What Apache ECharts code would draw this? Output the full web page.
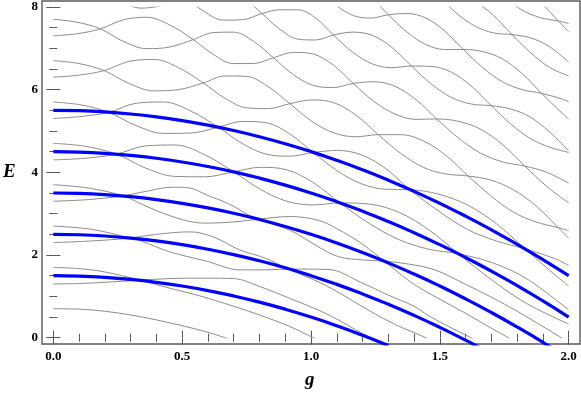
<!DOCTYPE html>
<html>
<head>
<meta charset="utf-8">
<script src="https://cdn.jsdelivr.net/npm/echarts@6.0.0/dist/echarts.min.js"></script>
<style>
  html, body { margin: 0; padding: 0; background: #fff; }
  #chart { width: 581px; height: 393px; }
</style>
</head>
<body>
<div id="chart"></div>
<script>
// tick positions
const xMajor = [0, 0.5, 1.0, 1.5, 2.0];
const xMinor = [0.1, 0.2, 0.3, 0.4, 0.6, 0.7, 0.8, 0.9, 1.1, 1.2, 1.3, 1.4, 1.6, 1.7, 1.8, 1.9];
const yMajor = [0, 2, 4, 6, 8];
const yMinor = [0.5, 1, 1.5, 2.5, 3, 3.5, 4.5, 5, 5.5, 6.5, 7, 7.5];

// coupling values for the thick (blue) levels
const blueG = [0, 0.1, 0.2, 0.3, 0.4, 0.5, 0.6, 0.7, 0.8, 0.9, 1.0, 1.1, 1.2, 1.3, 1.4, 1.5, 1.6, 1.7, 1.8, 1.9, 2.0];
const blue1 = [1.5, 1.49, 1.46, 1.41, 1.34, 1.25, 1.14, 1.01, 0.86, 0.69, 0.5, 0.29, 0.06, -0.19];
const blue2 = [2.5, 2.49, 2.46, 2.41, 2.34, 2.25, 2.14, 2.01, 1.86, 1.69, 1.5, 1.29, 1.06, 0.81, 0.54, 0.25, -0.06, -0.39];
const blue3 = [3.5, 3.49, 3.46, 3.41, 3.34, 3.25, 3.14, 3.01, 2.86, 2.69, 2.5, 2.29, 2.06, 1.81, 1.54, 1.25, 0.94, 0.61, 0.26, -0.11, -0.5];
const blue4 = [4.5, 4.49, 4.46, 4.41, 4.34, 4.25, 4.14, 4.01, 3.86, 3.69, 3.5, 3.29, 3.06, 2.81, 2.54, 2.25, 1.94, 1.61, 1.26, 0.89, 0.5];
const blue5 = [5.5, 5.49, 5.46, 5.41, 5.34, 5.25, 5.14, 5.01, 4.86, 4.69, 4.5, 4.29, 4.06, 3.81, 3.54, 3.25, 2.94, 2.61, 2.26, 1.89, 1.5];

// thin (gray) levels, [g, E]
const grayA0 = [[0,0.70],[0.1,0.69],[0.2,0.64],[0.3,0.55],[0.4,0.43],[0.5,0.29],[0.6,0.13],[0.7,-0.07]];
const grayA1 = [[0,1.70],[0.1,1.67],[0.2,1.59],[0.337,1.39],[0.45,1.20],[0.569,1.01],[0.7,0.76],[0.8,0.55],[0.918,0.27],[1.009,0.0],[1.05,-0.12]];
const grayB1 = [[0,1.30],[0.1,1.31],[0.2,1.34],[0.337,1.39],[0.45,1.43],[0.569,1.44],[0.699,1.43],[0.8,1.24],[0.918,0.95],[1.028,0.67],[1.1,0.45],[1.197,0.11],[1.25,-0.05]];
const grayA2 = [[0,2.70],[0.15,2.62],[0.298,2.41],[0.336,2.35],[0.45,2.08],[0.595,1.85],[0.724,1.64],[0.82,1.64],[0.918,1.66],[1.067,1.65],[1.2,1.32],[1.3,1.03],[1.4,0.76],[1.462,0.51],[1.585,0.11],[1.63,-0.03]];
const grayB2 = [[0,2.30],[0.15,2.34],[0.298,2.41],[0.4,2.50],[0.53,2.56],[0.62,2.44],[0.724,2.12],[0.82,1.93],[0.918,1.64],[1.015,1.39],[1.1,1.12],[1.222,0.67],[1.33,0.31],[1.445,0.0],[1.5,-0.2]];
const grayA3 = [[0,3.70],[0.136,3.62],[0.272,3.43],[0.336,3.25],[0.43,3.00],[0.53,2.81],[0.6,2.77],[0.7,2.80],[0.789,2.86],[0.918,2.93],[1.028,2.84],[1.1,2.64],[1.2,2.26],[1.287,1.84],[1.35,1.52],[1.4,1.29],[1.5,0.93],[1.6,0.59],[1.7,0.23],[1.766,0.0],[1.8,-0.12]];
const grayB3 = [[0,3.30],[0.136,3.34],[0.272,3.43],[0.336,3.51],[0.466,3.64],[0.53,3.62],[0.595,3.45],[0.68,3.24],[0.783,2.89],[0.918,2.60],[1.028,2.20],[1.106,1.96],[1.2,1.88],[1.287,1.85],[1.38,1.78],[1.481,1.64],[1.6,1.29],[1.7,0.98],[1.8,0.64],[1.9,0.27],[1.96,0.04],[2.0,-0.12]];
const grayA4 = [[0,4.70],[0.123,4.63],[0.245,4.44],[0.359,4.10],[0.473,3.90],[0.586,3.89],[0.70,4.01],[0.803,4.12],[0.906,4.06],[1.009,3.75],[1.112,3.26],[1.227,2.76],[1.342,2.37],[1.457,2.14],[1.572,2.03],[1.705,1.81],[1.836,1.43],[2.0,0.67]];
const grayB4 = [[0,4.30],[0.123,4.34],[0.245,4.44],[0.359,4.64],[0.473,4.66],[0.586,4.43],[0.70,4.01],[0.803,3.59],[0.906,3.30],[1.009,3.21],[1.112,3.26],[1.227,3.23],[1.342,3.03],[1.457,2.61],[1.572,2.03],[1.705,1.38],[1.836,0.83],[2.0,0.33]];
const grayA5 = [[0,5.70],[0.108,5.63],[0.215,5.45],[0.321,5.13],[0.428,4.94],[0.534,4.95],[0.64,5.09],[0.732,5.23],[0.825,5.20],[0.917,4.93],[1.009,4.48],[1.103,4.03],[1.197,3.72],[1.29,3.59],[1.384,3.58],[1.496,3.47],[1.607,3.21],[1.719,2.76],[1.83,2.15],[1.943,1.54],[2.0,1.25]];
const grayB5 = [[0,5.30],[0.108,5.35],[0.215,5.45],[0.321,5.67],[0.428,5.70],[0.534,5.48],[0.64,5.09],[0.732,4.70],[0.825,4.44],[0.917,4.39],[1.009,4.48],[1.103,4.53],[1.197,4.42],[1.29,4.09],[1.384,3.58],[1.496,3.06],[1.607,2.62],[1.719,2.34],[1.83,2.15],[1.943,1.92],[2.0,1.75]];
const grayA6 = [[0,6.70],[0.099,6.63],[0.197,6.46],[0.293,6.15],[0.39,5.97],[0.486,6.00],[0.582,6.16],[0.666,6.33],[0.75,6.32],[0.834,6.07],[0.918,5.66],[1.004,5.23],[1.09,4.95],[1.175,4.86],[1.261,4.91],[1.348,4.91],[1.436,4.76],[1.523,4.41],[1.61,3.91],[1.698,3.43],[1.785,3.04],[1.873,2.80],[1.96,2.66],[2.0,2.59]];
const grayB6 = [[0,6.30],[0.099,6.35],[0.197,6.46],[0.293,6.68],[0.39,6.73],[0.486,6.53],[0.582,6.16],[0.666,5.79],[0.75,5.56],[0.834,5.54],[0.918,5.66],[1.004,5.75],[1.09,5.68],[1.175,5.38],[1.261,4.91],[1.348,4.46],[1.436,4.12],[1.523,3.96],[1.61,3.91],[1.698,3.81],[1.785,3.58],[1.873,3.19],[1.96,2.66],[2.0,2.41]];
const grayA7 = [[0,7.70],[0.092,7.63],[0.183,7.47],[0.273,7.16],[0.363,6.99],[0.453,7.03],[0.543,7.21],[0.621,7.38],[0.699,7.39],[0.776,7.17],[0.854,6.77],[0.932,6.36],[1.009,6.10],[1.087,6.05],[1.164,6.15],[1.245,6.19],[1.326,6.08],[1.407,5.76],[1.488,5.29],[1.574,4.82],[1.659,4.46],[1.745,4.25],[1.83,4.15],[1.915,4.00],[2.0,3.74]];
const grayB7 = [[0,7.30],[0.092,7.35],[0.183,7.47],[0.273,7.69],[0.363,7.75],[0.453,7.56],[0.543,7.21],[0.621,6.85],[0.699,6.63],[0.776,6.63],[0.854,6.77],[0.932,6.90],[1.009,6.86],[1.087,6.59],[1.164,6.15],[1.245,5.71],[1.326,5.41],[1.407,5.28],[1.488,5.29],[1.574,5.23],[1.659,5.04],[1.745,4.66],[1.83,4.15],[1.915,3.66],[2.0,3.26]];
const grayA8 = [[0,8.70],[0.085,8.63],[0.17,8.47],[0.255,8.17],[0.34,7.97],[0.425,8.04],[0.51,8.24],[0.585,8.43],[0.66,8.44],[0.735,8.23],[0.81,7.84],[0.879,7.46],[0.949,7.22],[1.018,7.20],[1.087,7.32],[1.163,7.39],[1.239,7.31],[1.314,7.02],[1.39,6.57],[1.468,6.13],[1.545,5.81],[1.623,5.65],[1.70,5.61],[1.775,5.53],[1.85,5.34],[1.925,4.98],[2.0,4.52]];
const grayB8 = [[0.425,8.59],[0.51,8.24],[0.585,7.89],[0.66,7.68],[0.735,7.69],[0.81,7.84],[0.879,7.93],[0.949,7.93],[1.018,7.73],[1.087,7.32],[1.163,6.90],[1.239,6.62],[1.314,6.53],[1.39,6.57],[1.468,6.56],[1.545,6.42],[1.623,6.08],[1.70,5.61],[1.775,5.17],[1.85,4.82],[1.925,4.61],[2.0,4.48]];
const grayA9 = [[1.03,8.44],[1.098,8.55],[1.165,8.50],[1.233,8.23],[1.30,7.81],[1.373,7.39],[1.446,7.09],[1.518,6.97],[1.591,6.97],[1.667,6.92],[1.743,6.74],[1.819,6.39],[1.895,5.91],[1.971,5.45],[2.0,5.29]];
const grayB9 = [[1.03,8.44],[1.098,8.04],[1.165,7.79],[1.233,7.73],[1.30,7.81],[1.373,7.84],[1.446,7.73],[1.518,7.42],[1.591,6.97],[1.667,6.53],[1.743,6.19],[1.819,6.00],[1.895,5.91],[1.971,5.78],[2.0,5.71]];
const grayA10 = [[1.225,9.00],[1.293,8.60],[1.36,8.32],[1.428,8.23],[1.495,8.27],[1.566,8.25],[1.638,8.11],[1.709,7.79],[1.78,7.33],[1.853,6.89],[1.925,6.54],[2.0,6.33]];
const grayB10 = [[1.225,9.00],[1.293,9.06],[1.36,8.98],[1.428,8.70],[1.495,8.27],[1.566,7.84],[1.638,7.53],[1.709,7.37],[1.78,7.33],[1.853,7.25],[1.925,7.04],[2.0,6.67]];
const grayA11 = [[1.42,9.48],[1.485,9.51],[1.55,9.40],[1.615,9.11],[1.68,8.68],[1.75,8.25],[1.82,7.92],[1.89,7.74],[1.96,7.66],[2.0,7.60]];
const grayB11 = [[1.42,9.48],[1.485,9.08],[1.55,8.80],[1.615,8.68],[1.68,8.68],[1.75,8.63],[1.82,8.45],[1.89,8.12],[1.96,7.66],[2.0,7.40]];

const grayLevels = [grayA0, grayA1, grayB1, grayA2, grayB2, grayA3, grayB3, grayA4, grayB4,
  grayA5, grayB5, grayA6, grayB6, grayA7, grayB7, grayA8, grayB8, grayA9, grayB9,
  grayA10, grayB10, grayA11, grayB11];
const blueLevels = [blue1, blue2, blue3, blue4, blue5];

const chart = echarts.init(document.getElementById('chart'), null, { renderer: 'canvas' });

const frameColor = '#555';
const labelFont = { color: '#000', fontFamily: 'Liberation Serif', fontWeight: 'bold', fontSize: 13 };
const xRange = { min: -0.044, max: 2.044 };
const yRange = { min: -0.152, max: 8.143 };

// one tick set drawn on the frame of grid 0
const ticks = (position, values, len, label) => ({
  gridIndex: 0, type: 'value', position,
  axisLine: { show: false },
  axisTick: { show: true, inside: true, length: len, customValues: values, lineStyle: { color: frameColor, width: 1 } },
  axisLabel: label ? Object.assign({ customValues: values }, label) : { show: false },
  splitLine: { show: false }
});

chart.setOption({
  animation: false,
  grid: [
    { left: 42, top: 1, width: 538, height: 343, show: true, borderColor: '#5a5a5a', borderWidth: 1.4 },
    { left: 42, top: 6.9, width: 538, height: 330.8 }
  ],
  xAxis: [
    Object.assign(ticks('bottom', xMajor, 7, Object.assign({ margin: 6, formatter: v => v.toFixed(1) }, labelFont)), xRange),
    Object.assign({ gridIndex: 1, type: 'value', show: false }, xRange),
    Object.assign(ticks('bottom', xMinor, 4), xRange),
    Object.assign(ticks('top', xMajor, 7), xRange),
    Object.assign(ticks('top', xMinor, 4), xRange)
  ],
  yAxis: [
    Object.assign(ticks('left', yMajor, 7, Object.assign({ margin: 4 }, labelFont)), yRange),
    { gridIndex: 1, type: 'value', min: 0, max: 8, show: false },
    Object.assign(ticks('left', yMinor, 4), yRange),
    Object.assign(ticks('right', yMajor, 7), yRange),
    Object.assign(ticks('right', yMinor, 4), yRange)
  ],
  graphic: [
    { type: 'text', left: 3, top: 163, style: { text: 'E', font: 'italic bold 19px "Liberation Serif"', fill: '#000' } },
    { type: 'text', left: 305, top: 371, style: { text: 'g', font: 'italic bold 19px "Liberation Serif"', fill: '#000' } }
  ],
  series: [
    ...grayLevels.map(d => ({
      type: 'line', xAxisIndex: 1, yAxisIndex: 1, data: d,
      smooth: 0.35, symbol: 'none', silent: true, clip: true,
      lineStyle: { color: '#8c8c8c', width: 1 }
    })),
    ...blueLevels.map(vals => ({
      type: 'line', xAxisIndex: 0, yAxisIndex: 0,
      data: vals.map((e, i) => [blueG[i], e]),
      smooth: true, symbol: 'none', silent: true, clip: true,
      lineStyle: { color: '#0000ff', width: 3.2 }
    }))
  ]
});
</script>
</body>
</html>
